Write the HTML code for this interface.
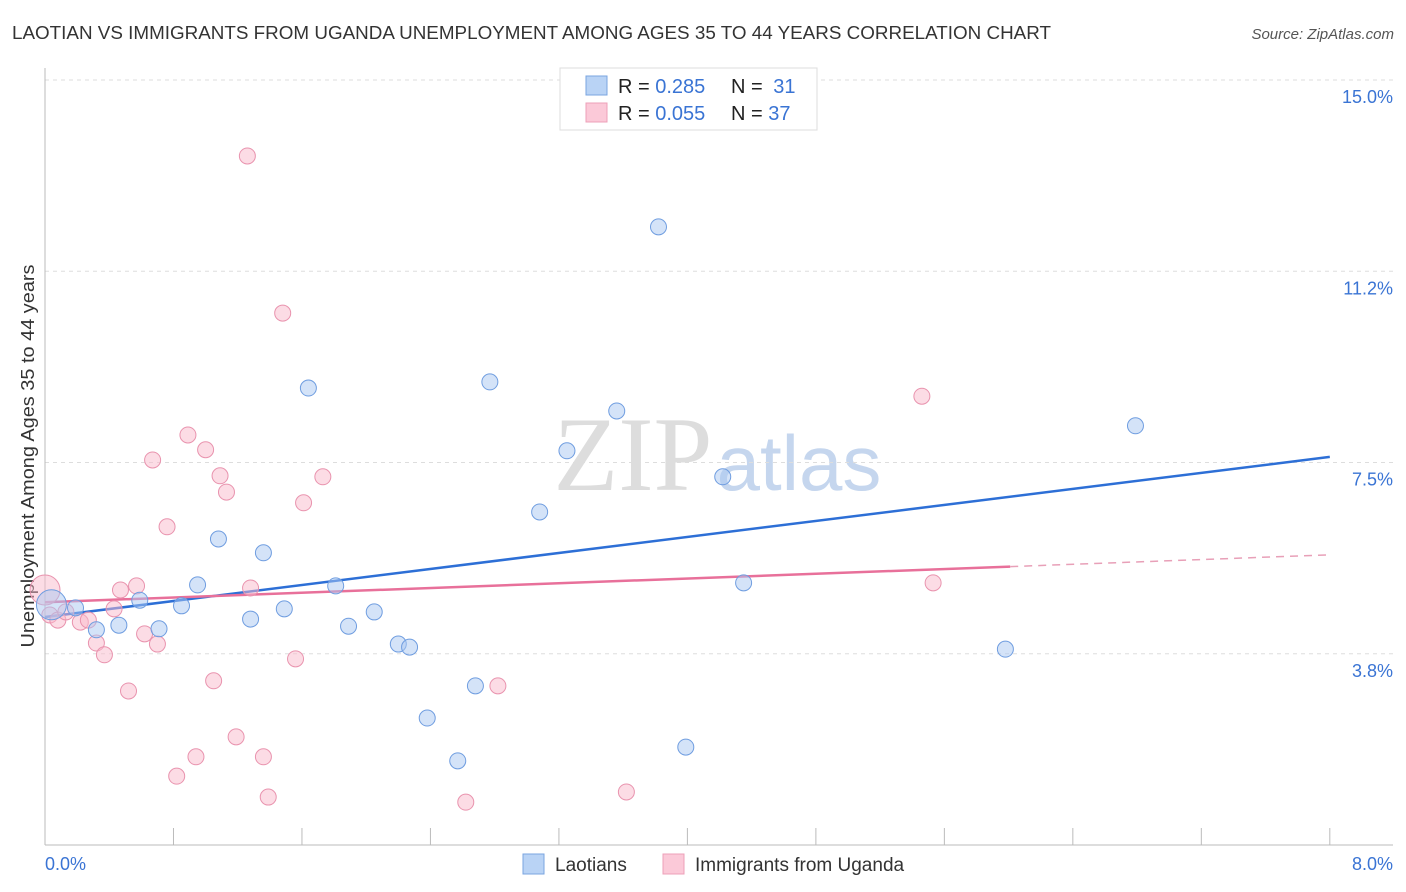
<!DOCTYPE html>
<html><head><meta charset="utf-8"><style>
body{margin:0;background:#fff;font-family:"Liberation Sans",sans-serif;}
#wrap{position:relative;width:1406px;height:892px;overflow:hidden;}
</style></head><body>
<div id="wrap">
<svg id="svg" width="1406" height="892" xmlns="http://www.w3.org/2000/svg">
<text x="12" y="39" font-size="18" fill="#333" textLength="1039" lengthAdjust="spacingAndGlyphs">LAOTIAN VS IMMIGRANTS FROM UGANDA UNEMPLOYMENT AMONG AGES 35 TO 44 YEARS CORRELATION CHART</text>
<text x="1394" y="39" font-size="15" fill="#555" font-style="italic" text-anchor="end">Source: ZipAtlas.com</text>
<text x="34" y="456" font-size="18" fill="#333" text-anchor="middle" textLength="383" lengthAdjust="spacingAndGlyphs" transform="rotate(-90 34 456)">Unemployment Among Ages 35 to 44 years</text>
<g><text x="633" y="490" font-size="106" font-family="Liberation Serif,serif" fill="#ddd" text-anchor="middle">ZIP</text><text x="799" y="490" font-size="78" fill="#c5d6ee" text-anchor="middle">atlas</text></g>
<g id="grid"></g><g id="axes"></g><g id="trend"></g><g id="pts"></g>
<g>
<rect x="560" y="68" width="257" height="62" fill="#fff" stroke="#ddd"/>
<rect x="586" y="76" width="21" height="19" fill="#b9d3f5" stroke="#7aa5e0"/>
<rect x="586" y="103" width="21" height="19" fill="#fbc9d8" stroke="#eea0b8"/>
<text x="618" y="93" font-size="20" fill="#222">R = <tspan fill="#3a74d4">0.285</tspan></text>
<text x="731" y="93" font-size="20" fill="#222">N = <tspan fill="#3a74d4" dx="5">31</tspan></text>
<text x="618" y="120" font-size="20" fill="#222">R = <tspan fill="#3a74d4">0.055</tspan></text>
<text x="731" y="120" font-size="20" fill="#222">N = <tspan fill="#3a74d4">37</tspan></text>
</g>
<g>
<rect x="523" y="854" width="21" height="20" fill="#b9d3f5" stroke="#7aa5e0"/>
<text x="555" y="871" font-size="19" fill="#333">Laotians</text>
<rect x="663" y="854" width="21" height="20" fill="#fbc9d8" stroke="#eea0b8"/>
<text x="695" y="871" font-size="19" fill="#333">Immigrants from Uganda</text>
</g>
</svg>
</div>
<script>
const yTicks=[15.0,11.25,7.5,3.75];
const yTickLabels=["15.0%","11.2%","7.5%","3.8%"];
const blueX=[0.04,0.19,0.32,0.46,0.59,0.71,0.85,0.95,1.08,1.28,1.36,1.49,1.64,1.81,1.89,2.05,2.20,2.27,2.38,2.57,2.68,2.77,3.08,3.25,3.56,3.82,3.99,4.22,4.35,5.98,6.79];
const blueY=[4.71,4.65,4.22,4.31,4.80,4.24,4.69,5.10,6.00,4.43,5.73,4.63,8.96,5.08,4.29,4.57,3.94,3.88,2.49,1.65,3.12,9.08,6.53,7.73,8.51,12.12,1.92,7.22,5.14,3.84,8.22];
const pinkX=[0,0.03,0.08,0.13,0.22,0.27,0.32,0.37,0.43,0.47,0.52,0.57,0.62,0.67,0.70,0.76,0.82,0.89,0.94,1.00,1.05,1.09,1.13,1.19,1.26,1.28,1.36,1.39,1.48,1.56,1.61,1.73,2.62,2.82,3.62,5.46,5.53];
const pinkY=[5.00,4.51,4.41,4.57,4.37,4.41,3.96,3.73,4.63,5.00,3.02,5.08,4.14,7.55,3.94,6.24,1.35,8.04,1.73,7.75,3.22,7.24,6.92,2.12,13.51,5.04,1.73,0.94,10.43,3.65,6.71,7.22,0.84,3.12,1.04,8.80,5.14];
const blueTrend=[4.47,7.61];
const pinkTrend=[4.76,5.69];
const xs=v=>45+v*160.6, ys=v=>845-v*51;
const NS="http://www.w3.org/2000/svg";
function mk(tag,attrs,parent){const e=document.createElementNS(NS,tag);for(const k in attrs)e.setAttribute(k,attrs[k]);document.getElementById(parent).appendChild(e);return e;}
yTicks.forEach((t,i)=>{
 const l=mk('line',{x1:45,x2:1393,y1:ys(t),y2:ys(t),stroke:'#ddd','stroke-dasharray':'4,4'},'grid');
 
 
 const tx=mk('text',{x:1393,y:ys(t)+23,'font-size':18,fill:'#3a74d4','text-anchor':'end'},'grid');
 tx.textContent=yTickLabels[i];
 
 
});
const ax=mk('line',{x1:45,x2:1393,y1:845,y2:845,stroke:'#bbb'},'axes');


const ay=mk('line',{x1:45,x2:45,y1:68,y2:845,stroke:'#bbb'},'axes');


for(let i=0;i<=10;i++){const t=mk('line',{x1:xs(i*0.8),x2:xs(i*0.8),y1:828,y2:845,stroke:'#bbb'},'axes');
 
 }
const x0=mk('text',{x:45,y:870,'font-size':18,fill:'#3a74d4'},'axes');x0.textContent='0.0%';


const x1=mk('text',{x:1393,y:870,'font-size':18,fill:'#3a74d4','text-anchor':'end'},'axes');x1.textContent='8.0%';


function dots(X,Y,fill,stroke,name){X.forEach((x,i)=>{const c=mk('circle',{cx:xs(x),cy:ys(Y[i]),r:i===0?15:8,fill:fill,stroke:stroke,'stroke-width':1,'fill-opacity':0.5},'pts');
 
 });}
dots(pinkX,pinkY,'#f9b9cc','#e993ae','uganda-point');
dots(blueX,blueY,'#a9c8f2','#6f9de0','laotian-point');
const bt=mk('line',{x1:xs(0),y1:ys(blueTrend[0]),x2:xs(8),y2:ys(blueTrend[1]),stroke:'#2d6fd6','stroke-width':2.5},'trend');


const pm=pinkTrend[0]+(pinkTrend[1]-pinkTrend[0])*6.01/8;
const pt=mk('line',{x1:xs(0),y1:ys(pinkTrend[0]),x2:xs(6.01),y2:ys(pm),stroke:'#e8709a','stroke-width':2.5},'trend');


const pd=mk('line',{x1:xs(6.01),y1:ys(pm),x2:xs(8),y2:ys(pinkTrend[1]),stroke:'#e8a0b8','stroke-width':1.5,'stroke-dasharray':'8,6'},'trend');


</script>
</body></html>
